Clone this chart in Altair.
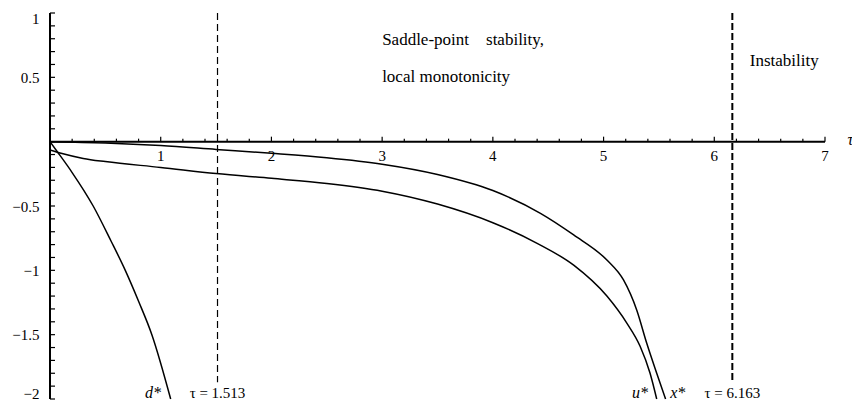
import altair as alt
import pandas as pd

# ---- data ----
tau_d = [0, 0.066, 0.2, 0.39, 0.55, 0.68, 0.8, 0.92, 1.09]
d_vals = [0, -0.078, -0.24, -0.5, -0.77, -1.0, -1.24, -1.5, -2.0]

tau_u = [0, 0.1, 0.3, 0.5, 1.0, 1.5, 2.0, 2.5, 3.0, 3.5, 4.0, 4.4, 4.73, 5.03, 5.21,
         5.33, 5.42, 5.48]
u_vals = [-0.065, -0.09, -0.13, -0.155, -0.2, -0.248, -0.285, -0.325, -0.385, -0.485, -0.63, -0.79,
          -0.96, -1.2, -1.41, -1.59, -1.80, -2.0]

tau_x = [0, 0.5, 1.0, 1.5, 2.0, 2.5, 3.0, 3.5, 4.0, 4.43, 4.73, 5.03, 5.18, 5.30, 5.39,
         5.48, 5.56]
x_vals = [0, -0.01, -0.03, -0.06, -0.09, -0.125, -0.175, -0.255, -0.38, -0.557, -0.725,
          -0.92, -1.075, -1.31, -1.567, -1.80, -2.0]

crit_tau = [1.513, 6.163]
crit_top = [1.0, 1.0]
crit_bottom = [-1.87, -1.87]

x_tick_major = [1, 2, 3, 4, 5, 6, 7]
x_tick_minor = [round(i * 0.2, 1) for i in range(1, 36) if i % 5 != 0]
y_tick_vals = [round(-2 + i * 0.1, 1) for i in range(0, 31)]
y_label_vals = [1, 0.5, -0.5, -1, -1.5, -2]

region_text = ["Saddle-point\u00a0\u00a0\u00a0\u00a0stability,", "local monotonicity", "Instability"]
region_x = [3.0, 3.0, 6.32]
region_y = [0.79, 0.5, 0.63]

curve_labels = ["d*", "u*", "x*"]
curve_label_x = [0.93, 5.33, 5.67]
curve_label_y = [-1.95, -1.95, -1.95]

crit_labels = ["\u03c4 = 1.513", "\u03c4 = 6.163"]
crit_label_y = [-1.95, -1.95]

FONT = "Liberation Serif"
W, H = 775, 386
X_MIN, X_MAX, Y_MIN, Y_MAX = 0, 7, -2, 1
# tick lengths in pixels, converted to data units for the rules
TX = 5 * (X_MAX - X_MIN) / W        # y-axis tick length (horizontal)
TY_MAJ = 5 * (Y_MAX - Y_MIN) / H    # x-axis major tick length (vertical)
TY_MIN = 3 * (Y_MAX - Y_MIN) / H    # x-axis minor tick length

xs = alt.Scale(domain=[X_MIN, X_MAX], nice=False, zero=False)
ys = alt.Scale(domain=[Y_MIN, Y_MAX], nice=False, zero=False)

yax = alt.Axis(values=y_label_vals, title=None, grid=False, domain=False, ticks=False,
               labelFont=FONT, labelFontSize=15,
               labelColor="black", labelPadding=11, format="~g",
               labelFlush=True, labelFlushOffset=2,
               labelExpr="replace(datum.label, '-', '\u2212')")


def X(f):
    return alt.X(f, scale=xs, axis=None)


def Y(f):
    return alt.Y(f, scale=ys, axis=yax)


curves = pd.concat([
    pd.DataFrame({"tau": tau_d, "v": d_vals, "s": "d"}),
    pd.DataFrame({"tau": tau_u, "v": u_vals, "s": "u"}),
    pd.DataFrame({"tau": tau_x, "v": x_vals, "s": "x"}),
])

curve_layer = alt.Chart(curves).mark_line(color="black", strokeWidth=1.5, interpolate="monotone").encode(
    x=X("tau:Q"), y=Y("v:Q"), detail="s:N",
)

xaxis_line = alt.Chart(pd.DataFrame({"a": [X_MIN], "b": [X_MAX], "z": [0]})).mark_rule(
    color="black", strokeWidth=2).encode(x=X("a:Q"), x2="b:Q", y=Y("z:Q"))

yaxis_line = alt.Chart(pd.DataFrame({"a": [Y_MIN], "b": [Y_MAX], "z": [0]})).mark_rule(
    color="black", strokeWidth=2).encode(y=Y("a:Q"), y2="b:Q", x=X("z:Q"))

xmaj_df = pd.DataFrame({"t": x_tick_major})
xmaj_df["a"] = 0.0
xmaj_df["b"] = TY_MAJ
xmaj = alt.Chart(xmaj_df).mark_rule(color="black", strokeWidth=1.2).encode(
    x=X("t:Q"), y=Y("a:Q"), y2="b:Q")

xmin_df = pd.DataFrame({"t": x_tick_minor})
xmin_df["a"] = 0.0
xmin_df["b"] = TY_MIN
xmin = alt.Chart(xmin_df).mark_rule(color="black", strokeWidth=1.2).encode(
    x=X("t:Q"), y=Y("a:Q"), y2="b:Q")

ytk_df = pd.DataFrame({"v": y_tick_vals})
ytk_df["a"] = 0.0
ytk_df["b"] = TX
ytk = alt.Chart(ytk_df).mark_rule(color="black", strokeWidth=1.2).encode(
    y=Y("v:Q"), x=X("a:Q"), x2="b:Q")

xlab = alt.Chart(pd.DataFrame({"t": x_tick_major, "z": 0})).mark_text(
    font=FONT, fontSize=15, dy=14, baseline="middle", align="center", color="black").encode(
    x=X("t:Q"), y=Y("z:Q"), text="t:Q")

tau_lab = alt.Chart(pd.DataFrame({"t": [7.23], "z": [0.01], "s": ["\u03c4"]})).mark_text(
    font=FONT, fontSize=16, fontStyle="italic", align="center", baseline="middle", color="black").encode(
    x=X("t:Q"), y=Y("z:Q"), text="s:N")

crit_df = pd.DataFrame({"t": crit_tau, "a": crit_top, "b": crit_bottom})
crit1 = alt.Chart(crit_df.iloc[[0]]).mark_rule(color="black", strokeWidth=1.2, strokeDash=[7, 4]).encode(
    x=X("t:Q"), y=Y("a:Q"), y2="b:Q")
crit2 = alt.Chart(crit_df.iloc[[1]]).mark_rule(color="black", strokeWidth=2, strokeDash=[7, 3]).encode(
    x=X("t:Q"), y=Y("a:Q"), y2="b:Q")

region = alt.Chart(pd.DataFrame({"t": region_x, "v": region_y, "s": region_text})).mark_text(
    font=FONT, fontSize=17, align="left", baseline="middle", color="black").encode(
    x=X("t:Q"), y=Y("v:Q"), text="s:N")

clab = alt.Chart(pd.DataFrame({"t": curve_label_x, "v": curve_label_y, "s": curve_labels})).mark_text(
    font=FONT, fontSize=16, fontStyle="italic", align="center", baseline="middle", color="black").encode(
    x=X("t:Q"), y=Y("v:Q"), text="s:N")

critlab = alt.Chart(pd.DataFrame({"t": crit_tau, "v": crit_label_y, "s": crit_labels})).mark_text(
    font=FONT, fontSize=15, align="center", baseline="middle", color="black").encode(
    x=X("t:Q"), y=Y("v:Q"), text="s:N")

chart = alt.layer(
    crit1, crit2, xaxis_line, yaxis_line, xmin, xmaj, ytk, curve_layer, xlab, tau_lab,
    region, clab, critlab,
).properties(
    width=W, height=H,
    autosize=alt.AutoSizeParams(type="none"),
    padding={"left": 42, "top": 5, "right": 27, "bottom": 2},
).configure(background="white").configure_view(stroke=None)

chart.save("out.html", embed_options={"renderer": "svg", "actions": False})
